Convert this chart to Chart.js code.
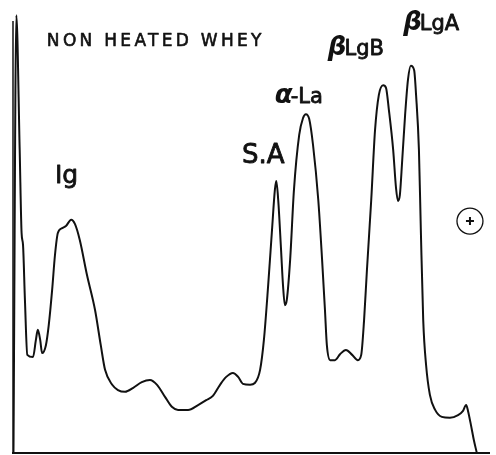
<!DOCTYPE html>
<html lang="en">
<head>
    <meta charset="UTF-8">
    <title>Non heated whey - densitometer trace</title>
    <style>
        body {
            margin: 0;
            padding: 0;
            background: #ffffff;
        }
        #trace {
            display: block;
        }
    </style>
</head>
<body>
    <canvas id="trace" width="496" height="455"></canvas>

    <script src="https://cdn.jsdelivr.net/npm/chart.js"></script>
    <script>
        // migration distance (0 = start, 100 = anode end) and optical density
        const distance = [
            0.1, 0.7, 1.4, 1.8, 2.1, 2.5, 3.0, 4.2, 4.8, 5.2, 5.7, 6.1, 6.9, 7.5, 8.2, 8.8,
            9.4, 10.3, 11.1, 12.2, 13.0, 14.0, 15.5, 17.2, 18.4, 19.3, 20.8, 22.0, 23.5, 25.2,
            27.0, 28.7, 30.2, 31.9, 33.3, 34.6, 36.7, 38.8, 40.5, 41.9, 43.4, 44.7, 46.1, 47.2,
            48.2, 49.7, 50.7, 51.8, 52.6, 53.5, 54.3, 54.9, 55.2, 55.6, 56.2, 56.6, 57.0, 57.4,
            58.1, 58.9, 60.0, 60.8, 61.4, 62.1, 62.9, 64.0, 64.8, 65.4, 65.8, 66.5, 67.5, 68.6,
            69.8, 71.1, 72.3, 73.0, 73.6, 74.2, 75.1, 75.9, 76.7, 77.6, 78.2, 78.8, 79.7, 80.3,
            80.7, 81.1, 81.6, 82.2, 82.8, 83.4, 84.1, 84.5, 85.1, 85.5, 86.0, 86.6, 87.4, 88.5,
            89.9, 91.6, 93.3, 94.3, 95.0, 95.4, 96.0, 96.6, 97.2
        ];
        const density = [
            0.2, 99.5, 68.9, 50.0, 47.3, 34.8, 22.3, 21.8, 25.7, 28.0, 25.7, 22.7, 24.5, 29.1, 37.0, 45.0,
            50.0, 51.1, 51.6, 53.0, 52.0, 48.4, 40.5, 32.5, 24.5, 18.9, 15.5, 14.3, 13.9, 14.8,
            16.1, 16.6, 15.5, 12.7, 10.5, 9.8, 9.8, 10.9, 12.0, 13.0, 15.5, 17.3, 18.2, 17.3,
            15.7, 15.5, 15.9, 18.9, 25.7, 38.2, 50.7, 59.8, 61.8, 57.5, 46.1, 38.2, 33.6, 34.8,
            43.9, 59.8, 72.3, 76.1, 77.0, 75.9, 70.0, 57.5, 43.9, 32.5, 24.5, 21.1, 21.1, 22.5,
            23.4, 22.3, 21.1, 22.3, 30.2, 41.6, 57.5, 73.4, 81.4, 83.6, 83.0, 78.0, 68.9, 60.2,
            57.3, 58.6, 66.6, 76.8, 84.8, 88.0, 87.0, 81.4, 68.9, 50.7, 30.2, 20.0, 13.2, 9.8,
            8.2, 8.0, 8.6, 9.5, 10.9, 9.5, 6.4, 3.0, 0.2
        ];

        // protein bands labelled on the scan
        const bandNames = ['Ig', 'S.A', '\u03b1-La', '\u03b2LgB', '\u03b2LgA'];
        const title = 'NON HEATED WHEY';

        const points = distance.map((d, i) => ({ x: d, y: density[i] }));

        // label placement in data units (left edge, baseline) and font size
        const labelSpots = [
            { x: 8.8, y: 61.3, size: 25 },
            { x: 48.0, y: 65.9, size: 26 },
            { x: 54.9, y: 79.5, size: 21 },
            { x: 66.0, y: 90.5, size: 21 },
            { x: 81.8, y: 96.1, size: 21 }
        ];

        // draws text a little heavier, like the inked lettering of the scan
        function inkText(ctx, text, x, y, weight) {
            ctx.lineWidth = weight;
            ctx.strokeText(text, x, y);
            ctx.fillText(text, x, y);
        }

        const decorations = {
            id: 'decorations',
            afterDatasetsDraw(chart) {
                const ctx = chart.ctx;
                const area = chart.chartArea;
                const xs = chart.scales.x;
                const ys = chart.scales.y;
                ctx.save();
                ctx.strokeStyle = '#111';
                ctx.fillStyle = '#111';
                ctx.lineJoin = 'round';

                // base line and left edge
                ctx.lineWidth = 2;
                ctx.beginPath();
                ctx.moveTo(area.left - 1, area.bottom);
                ctx.lineTo(area.right, area.bottom);
                ctx.stroke();
                ctx.lineWidth = 1.5;
                ctx.beginPath();
                ctx.moveTo(area.left, area.bottom);
                ctx.lineTo(area.left, area.top + 8);
                ctx.stroke();

                // title
                ctx.font = '17px "DejaVu Sans", sans-serif';
                ctx.letterSpacing = '3.3px';
                ctx.textBaseline = 'alphabetic';
                inkText(ctx, title, xs.getPixelForValue(7.1), ys.getPixelForValue(92.5), 0.6);
                ctx.letterSpacing = '0px';

                // band labels
                bandNames.forEach((name, i) => {
                    const spot = labelSpots[i];
                    let x = xs.getPixelForValue(spot.x);
                    const y = ys.getPixelForValue(spot.y);
                    const first = name[0];
                    if (first === '\u03b1' || first === '\u03b2') {
                        ctx.font = 'italic bold ' + (spot.size + 5) + 'px "DejaVu Sans", sans-serif';
                        ctx.fillText(first, x, y);
                        x += ctx.measureText(first).width - 2;
                        name = name.slice(1);
                    }
                    ctx.font = spot.size + 'px "DejaVu Sans", sans-serif';
                    inkText(ctx, name, x, y, 0.8);
                });

                // anode mark
                const cx = xs.getPixelForValue(95.8);
                const cy = ys.getPixelForValue(52.7);
                ctx.lineWidth = 1.3;
                ctx.beginPath();
                ctx.arc(cx, cy, 13, 0, Math.PI * 2);
                ctx.stroke();
                ctx.lineWidth = 2;
                ctx.beginPath();
                ctx.moveTo(cx - 4, cy);
                ctx.lineTo(cx + 4, cy);
                ctx.moveTo(cx, cy - 4);
                ctx.lineTo(cx, cy + 4);
                ctx.stroke();
                ctx.restore();
            }
        };

        new Chart(document.getElementById('trace'), {
            type: 'scatter',
            data: {
                datasets: [{
                    label: title,
                    data: points,
                    showLine: true,
                    borderColor: '#111',
                    borderWidth: 2,
                    pointRadius: 0,
                    cubicInterpolationMode: 'monotone',
                    fill: false
                }]
            },
            options: {
                responsive: false,
                animation: false,
                devicePixelRatio: 1,
                layout: {
                    padding: { left: 13, right: 6, top: 13, bottom: 2 }
                },
                plugins: {
                    legend: { display: false },
                    tooltip: { enabled: false }
                },
                scales: {
                    x: { type: 'linear', min: 0, max: 100, display: false },
                    y: { type: 'linear', min: 0, max: 100, display: false }
                }
            },
            plugins: [decorations]
        });
    </script>
</body>
</html>
